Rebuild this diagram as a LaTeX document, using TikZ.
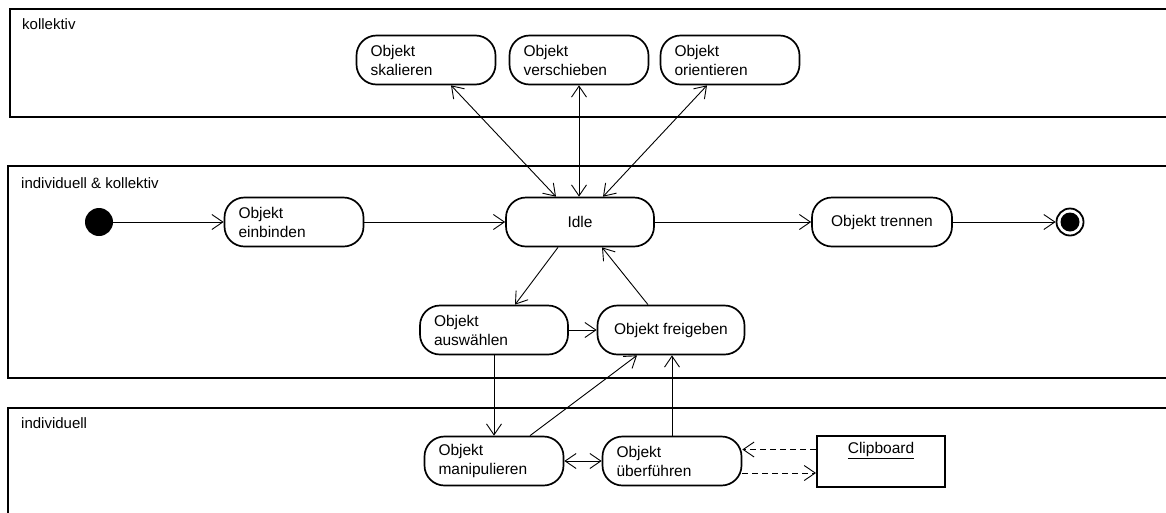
\documentclass[tikz,border=0pt]{standalone}
\usepackage{fontspec}
\setmainfont{Liberation Sans}
\usetikzlibrary{arrows.meta}
\tikzset{
  zustand/.style={draw, line width=1.7pt, rounded corners=20pt, minimum height=49pt, inner ysep=0pt, font=\fontsize{15.5}{19}\selectfont},
  zweizeilig/.style={zustand, align=left, inner xsep=14pt, text width=111pt},
  einzeilig/.style={zustand, align=center, minimum width=#1},
  bereich/.style={draw, line width=1.2pt},
  titel/.style={anchor=base west, inner sep=0pt, font=\fontsize{15}{18}\selectfont},
  pfeil/.style={line width=0.9pt},
  ablage/.style={pfeil, dash pattern=on 6pt off 4pt}
}
\begin{document}
\begin{tikzpicture}[x=1pt, y=-1pt, >={Straight Barb[length=11pt,width=15pt]}]
  \useasboundingbox (0,0) rectangle (1166,512);
  \clip (0,0) rectangle (1166,512);
  % Bereiche
  \draw[bereich] (10,9) rectangle (1200,117);
  \draw[bereich] (8,166) rectangle (1200,378);
  \draw[bereich] (8,408) rectangle (1200,540);
  \node[titel] at (22,29) {kollektiv};
  \node[titel] at (21,188) {individuell \& kollektiv};
  \node[titel] at (21,428) {individuell};
  % Zustaende
  \node[zweizeilig] (skal) at (426,60) {Objekt\\skalieren};
  \node[zweizeilig] (vers) at (579,60) {Objekt\\verschieben};
  \node[zweizeilig] (orie) at (730,60) {Objekt\\orientieren};
  \node[circle, fill, minimum size=28pt, inner sep=0pt] (start) at (99,222) {};
  \node[zweizeilig] (einb) at (294,222) {Objekt\\einbinden};
  \node[einzeilig=148pt] (idle) at (580,222) {Idle};
  \node[einzeilig=140pt] (tren) at (882,222) {Objekt trennen};
  \node[circle, draw, line width=1.8pt, minimum size=27pt, inner sep=0pt,
        path picture={\fill (path picture bounding box.center) circle (9.5pt);}] (ende) at (1070,222) {};
  \node[zweizeilig, text width=120pt] (ausw) at (494,330) {Objekt\\auswählen};
  \node[einzeilig=147pt] (frei) at (671,330) {Objekt freigeben};
  \node[zweizeilig] (mani) at (494,461) {Objekt\\manipulieren};
  \node[zweizeilig] (uebe) at (672,461) {Objekt\\überführen};
  \node[draw, line width=2pt, minimum width=128pt, minimum height=51pt,
        label={[anchor=north, inner sep=2pt, yshift=-5pt, font=\fontsize{15.5}{19}\selectfont]north:\underline{Clipboard}}] (clip) at (881,461.5) {};
  % Uebergaenge
  \draw[pfeil, <->] ([xshift=25pt]skal.south) -- ([xshift=-24pt]idle.north);
  \draw[pfeil, <->] (vers.south) -- (vers.south |- idle.north);
  \draw[pfeil, <->] ([xshift=-23pt]orie.south) -- ([xshift=23pt]idle.north);
  \draw[pfeil, ->] (start) -- (einb);
  \draw[pfeil, ->] (einb) -- (idle);
  \draw[pfeil, ->] (idle) -- (tren);
  \draw[pfeil, ->] (tren) -- (ende);
  \draw[pfeil, ->] ([xshift=-22pt]idle.south) -- ([xshift=21pt]ausw.north);
  \draw[pfeil, ->] ([xshift=-23pt]frei.north) -- ([xshift=22pt]idle.south);
  \draw[pfeil, ->] (ausw.east) -- (frei.west);
  \draw[pfeil, ->] (ausw.south) -- (mani.north);
  \draw[pfeil, ->] ([xshift=36pt]mani.north) -- ([xshift=-34pt]frei.south);
  \draw[pfeil, ->] (uebe.north) -- (uebe.north |- frei.south);
  \draw[pfeil, <->] (mani.east) -- (uebe.west);
  \draw[ablage, ->] ([yshift=12pt]clip.west) -- ([yshift=12pt]clip.west -| uebe.east);
  \draw[ablage, ->] ([yshift=-12pt]uebe.east) -- ([yshift=-12pt]uebe.east -| clip.west);
\end{tikzpicture}
\end{document}
